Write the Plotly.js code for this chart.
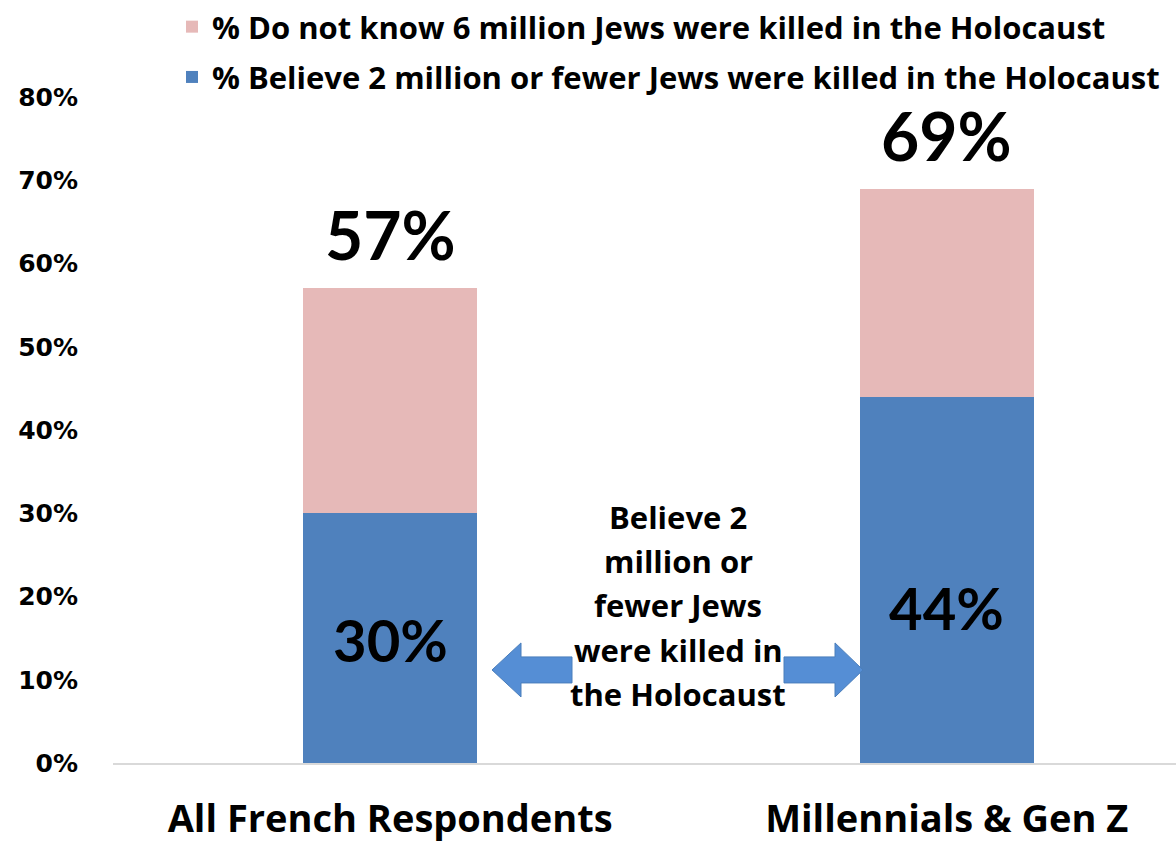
<!DOCTYPE html>
<html>
<head>
<meta charset="utf-8">
<script src="https://cdn.plot.ly/plotly-3.0.1.min.js"></script>
<style>html,body{margin:0;padding:0;background:#fff}#chart{width:1176px;height:846px}</style>
</head>
<body>
<div id="chart"></div>
<script>
const categories = ["All French Respondents", "Millennials & Gen Z"];
const believe2M = [30, 44];
const doNotKnowExtra = [27, 25];
const seriesNames = ["% Believe 2 million or fewer Jews were killed in the Holocaust", "% Do not know 6 million Jews were killed in the Holocaust"];
const tickVals = [0, 10, 20, 30, 40, 50, 60, 70, 80];
const tickText = ["0%", "10%", "20%", "30%", "40%", "50%", "60%", "70%", "80%"];
const middleNoteLines = ["Believe 2", "million or", "fewer Jews", "were killed in", "the Holocaust"];

const totals = believe2M.map((v, i) => v + doNotKnowExtra[i]);
const xIdx = categories.map((c, i) => i);

const FONT = "Lato, 'Open Sans', sans-serif";
const WIDE = "'Open Sans', Lato, sans-serif";
const BLUE = "#4F81BD";
const PINK = "#E6B9B8";

// pixel-to-paper helpers for plot area (l=113, r=1176, top=97.4, bottom=763)
const L = 113, R = 1176, T = 97.4, B = 763;
const px = p => (p - L) / (R - L);
const py = p => (B - p) / (B - T);

function arrowPath(pts) {
  return "M" + pts.map(p => px(p[0]) + "," + py(p[1])).join(" L") + " Z";
}
const leftArrow = arrowPath([[492,670],[521,643],[521,657],[572,657],[572,683],[521,683],[521,697]]);
const rightArrow = arrowPath([[863,670],[835,643],[835,657],[784,657],[784,683],[835,683],[835,697]]);

const traces = [
  {type: "bar", x: xIdx, y: believe2M, name: seriesNames[0], marker: {color: BLUE}, width: 0.313, legendrank: 2, legendgroup: "b", hoverinfo: "skip"},
  {type: "bar", x: xIdx, y: doNotKnowExtra, name: seriesNames[1], marker: {color: PINK}, width: 0.313, legendrank: 1, legendgroup: "a", hoverinfo: "skip"}
];

const annotations = [];
xIdx.forEach(i => {
  annotations.push({x: i, y: totals[i], xref: "x", yref: "y", text: totals[i] + "%", showarrow: false, yanchor: "bottom", yshift: 12, font: {family: FONT, size: 66, color: "#000", weight: 700}});
});
annotations.push({x: 0, y: 14.8, xref: "x", yref: "y", text: believe2M[0] + "%", showarrow: false, yanchor: "middle", font: {family: FONT, size: 58, color: "#000", weight: 700}});
annotations.push({x: 1, y: 18.7, xref: "x", yref: "y", text: believe2M[1] + "%", showarrow: false, yanchor: "middle", font: {family: FONT, size: 58, color: "#000", weight: 700}});
middleNoteLines.forEach((line, k) => {
  annotations.push({x: px(678), y: py(517 + 44.2 * k), xref: "paper", yref: "paper", xanchor: "center", yanchor: "middle", text: line, showarrow: false, align: "center", font: {family: WIDE, size: 31, color: "#000", weight: 700}});
});

const layout = {
  width: 1176, height: 846,
  margin: {l: 113, r: 0, t: 97.4, b: 83, pad: 0, autoexpand: false},
  paper_bgcolor: "#fff", plot_bgcolor: "#fff",
  barmode: "stack",
  showlegend: true,
  legend: {xref: "container", yref: "container", x: 172 / 1176, y: 1 + 6 / 846, xanchor: "left", yanchor: "top", orientation: "v",
    traceorder: "grouped", tracegroupgap: 7,
    font: {family: WIDE, size: 31, color: "#000", weight: 700}, bgcolor: "rgba(0,0,0,0)"},
  xaxis: {range: [-0.498, 1.412], tickvals: xIdx, ticktext: categories, showgrid: false, zeroline: false,
    showline: true, linecolor: "#D9D9D9", linewidth: 1.5, ticks: "", ticklabelstandoff: 22,
    tickfont: {family: WIDE, size: 38, color: "#000", weight: 700}, fixedrange: true},
  yaxis: {range: [0, 80], tickvals: tickVals, ticktext: tickText, showgrid: false, zeroline: false, showline: false,
    ticks: "", ticklabelstandoff: 34, tickfont: {family: "DejaVu Sans", size: 25, color: "#000", weight: 700}, fixedrange: true},
  shapes: [
    {type: "path", xref: "paper", yref: "paper", path: leftArrow, fillcolor: "#558ED5", line: {color: "#4A7EBB", width: 1}},
    {type: "path", xref: "paper", yref: "paper", path: rightArrow, fillcolor: "#558ED5", line: {color: "#4A7EBB", width: 1}}
  ],
  annotations: annotations
};

Plotly.newPlot("chart", traces, layout, {displayModeBar: false, staticPlot: true});
</script>
</body>
</html>
